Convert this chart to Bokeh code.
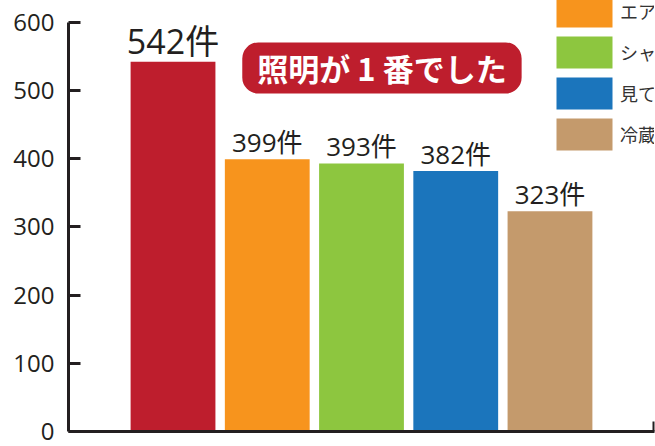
from bokeh.plotting import figure
from bokeh.models import ColumnDataSource, Range1d, FixedTicker, Label, Legend, LegendItem
from bokeh.core.properties import value
from bokeh.embed import file_html
from bokeh.resources import INLINE

# ---- data ----
categories = ["照明", "エアコン", "シャワー", "見ていないテレビ", "冷蔵庫"]
counts = [542, 399, 393, 382, 323]
colors = ["#be1e2d", "#f7941d", "#8dc63f", "#1b75bc", "#c49a6c"]
y_ticks = [0, 100, 200, 300, 400, 500, 600]
unit = "件"
headline = "照明が 1 番でした"

idx = list(range(len(categories)))
labels = [f"{c}{unit}" for c in counts]

src = ColumnDataSource(dict(x=idx, top=counts, cat=categories, color=colors, label=labels))
top_src = ColumnDataSource(dict(x=idx[:1], top=counts[:1], label=labels[:1]))
rest_src = ColumnDataSource(dict(x=idx[1:], top=counts[1:], label=labels[1:]))

AX = "#231f20"
p = figure(width=655, height=446, output_backend="svg", toolbar_location=None,
           x_range=Range1d(-1.109, 5.109), y_range=Range1d(0, 631.9),
           min_border_left=68, min_border_right=1, min_border_top=0, min_border_bottom=15)
p.outline_line_color = None
p.xgrid.visible = False
p.ygrid.visible = False
p.background_fill_color = "white"

bars = p.vbar(x="x", top="top", width=0.9, bottom=0, color="color", line_color=None, source=src)

CJK = "Open Sans, Noto Sans CJK JP"
p.text(x="x", y="top", text="label", source=top_src, text_align="center",
       text_baseline="alphabetic", y_offset=-21, text_font=value(CJK),
       text_font_size="34px", text_color=AX)
p.text(x="x", y="top", text="label", source=rest_src, text_align="center",
       text_baseline="alphabetic", y_offset=-17, text_font=value(CJK),
       text_font_size="26px", text_color=AX)

# axes
ya = p.yaxis[0]
ya.ticker = FixedTicker(ticks=y_ticks)
ya.bounds = (0, 600)
ya.axis_line_width = 3
ya.axis_line_color = AX
ya.major_tick_in = 12
ya.major_tick_out = 0
ya.major_tick_line_width = 3
ya.major_tick_line_color = AX
ya.minor_tick_line_color = None
ya.major_label_standoff = 14
ya.major_label_text_font = "Open Sans"
ya.major_label_text_font_size = "24px"
ya.major_label_text_color = AX

xa = p.xaxis[0]
xa.ticker = FixedTicker(ticks=[5.1])
xa.axis_line_width = 3
xa.axis_line_color = AX
xa.major_tick_in = 10
xa.major_tick_out = 0
xa.major_tick_line_width = 2
xa.major_tick_line_color = AX
xa.minor_tick_line_color = None
xa.major_label_overrides = {5.1: ""}

# headline badge
badge = Label(x=2.217, y=533, text=headline, text_align="center", text_baseline="middle",
              text_font="Noto Sans CJK JP", text_font_style="bold", text_font_size="31px",
              text_color="white", background_fill_color="#be1e2d", border_radius=16,
              padding=dict(left=15, right=15, top=3, bottom=3))
p.add_layout(badge)

# legend
items = [LegendItem(label=c, renderers=[bars], index=i) for i, c in enumerate(categories)]
legend = Legend(items=items, location=(481, 277), orientation="vertical",
                glyph_width=70, glyph_height=40, label_height=40, spacing=1,
                padding=0, margin=0, label_standoff=1, border_line_color=None,
                background_fill_alpha=0, label_text_font="Noto Sans CJK JP",
                label_text_font_size="18px", label_text_color="#333333")
p.add_layout(legend)

open("out.html", "w").write(file_html(p, INLINE))
